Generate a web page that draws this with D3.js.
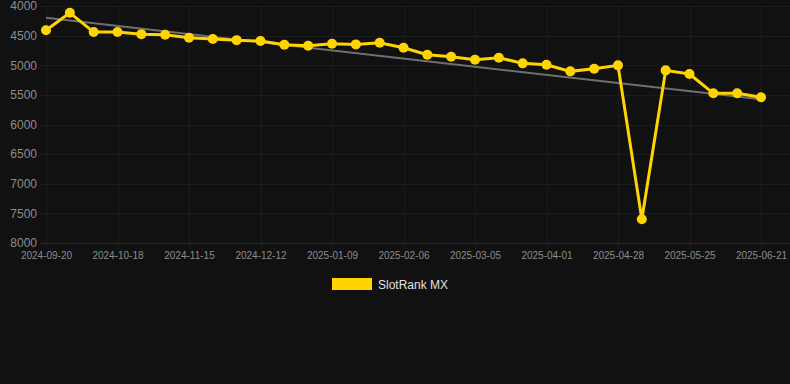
<!DOCTYPE html>
<html>
<head>
<meta charset="utf-8">
<script src="https://cdn.jsdelivr.net/npm/d3@7"></script>
<style>
  html, body { margin: 0; padding: 0; background: #111111; }
  svg { display: block; font-family: "Liberation Sans", Arial, sans-serif; }
</style>
</head>
<body>
<div class="chart"></div>
<script>
const width = 790;
const height = 384;

// dates of each sample (only every 3rd one is labelled on the axis)
const dates = [
  "2024-09-20", "2024-09-29", "2024-10-09", "2024-10-18", "2024-10-27", "2024-11-06",
  "2024-11-15", "2024-11-24", "2024-12-03", "2024-12-12", "2024-12-21", "2024-12-31",
  "2025-01-09", "2025-01-18", "2025-01-28", "2025-02-06", "2025-02-15", "2025-02-24",
  "2025-03-05", "2025-03-14", "2025-03-23", "2025-04-01", "2025-04-10", "2025-04-19",
  "2025-04-28", "2025-05-07", "2025-05-16", "2025-05-25", "2025-06-03", "2025-06-12",
  "2025-06-21",
];
const ranks = [
  4410, 4115, 4440, 4440, 4475, 4485, 4536, 4558, 4576, 4592,
  4654, 4671, 4637, 4648, 4620, 4704, 4822, 4856, 4906, 4873,
  4968, 4991, 5103, 5058, 5002, 7600, 5086, 5148, 5474, 5474,
  5541,
];
const yTicks = [4000, 4500, 5000, 5500, 6000, 6500, 7000, 7500, 8000];
const seriesName = "SlotRank MX";

const data = dates.map((d, i) => ({ date: d, rank: ranks[i], i: i }));
const tickDates = dates.filter((d, i) => i % 3 === 0);

const svg = d3
  .select(".chart")
  .append("svg")
  .attr("width", width)
  .attr("height", height);

const xScale = d3.scalePoint().domain(dates).range([46, 761]);
const yScale = d3.scaleLinear().domain([4000, 8000]).range([6, 243]);

// grid
svg
  .append("g")
  .selectAll("line")
  .data(yTicks)
  .enter()
  .append("line")
  .attr("x1", 40)
  .attr("x2", width)
  .attr("y1", (d) => Math.round(yScale(d)) + 0.5)
  .attr("y2", (d) => Math.round(yScale(d)) + 0.5)
  .attr("stroke", (d) => (d === 8000 ? "#2b2b2b" : "#1c1c1c"))
  .attr("stroke-width", 1);

svg
  .append("g")
  .selectAll("line")
  .data(tickDates)
  .enter()
  .append("line")
  .attr("x1", (d) => Math.round(xScale(d)) + 0.5)
  .attr("x2", (d) => Math.round(xScale(d)) + 0.5)
  .attr("y1", 6)
  .attr("y2", 249)
  .attr("stroke", "#1c1c1c")
  .attr("stroke-width", 1);

// y labels
const yAxis = d3
  .axisLeft(yScale)
  .tickValues(yTicks)
  .tickFormat(d3.format("d"))
  .tickSize(0)
  .tickPadding(0);
svg
  .append("g")
  .attr("transform", "translate(37,0)")
  .call(yAxis)
  .call((g) => g.select(".domain").remove())
  .selectAll("text")
  .attr("fill", "#8c8c8c")
  .style("font-size", "12px");

// x labels
const xAxis = d3.axisBottom(xScale).tickValues(tickDates).tickSize(0).tickPadding(0);
svg
  .append("g")
  .attr("transform", "translate(0,252)")
  .call(xAxis)
  .call((g) => g.select(".domain").remove())
  .selectAll("text")
  .attr("fill", "#8c8c8c")
  .style("font-size", "10px");

// trend line (least squares over the samples)
const n = data.length;
const mx = d3.mean(data, (d) => d.i);
const my = d3.mean(data, (d) => d.rank);
const slope =
  d3.sum(data, (d) => (d.i - mx) * (d.rank - my)) /
  d3.sum(data, (d) => (d.i - mx) * (d.i - mx));
const trend = [data[0], data[n - 1]].map((d) => ({
  date: d.date,
  rank: my + slope * (d.i - mx),
}));

svg
  .append("path")
  .datum(trend)
  .attr("fill", "none")
  .attr("stroke", "#6f6f6f")
  .attr("stroke-width", 2)
  .attr(
    "d",
    d3.line().x((d) => xScale(d.date)).y((d) => yScale(d.rank))
  );

// series
svg
  .append("path")
  .datum(data)
  .attr("fill", "none")
  .attr("stroke", "#ffd400")
  .attr("stroke-width", 3)
  .attr(
    "d",
    d3.line().x((d) => xScale(d.date)).y((d) => yScale(d.rank))
  );

svg
  .append("g")
  .selectAll("circle")
  .data(data)
  .enter()
  .append("circle")
  .attr("cx", (d) => xScale(d.date))
  .attr("cy", (d) => yScale(d.rank))
  .attr("r", 5)
  .attr("fill", "#ffd400");

// legend
const legend = svg.append("g");
legend
  .append("rect")
  .attr("x", 332)
  .attr("y", 278)
  .attr("width", 40)
  .attr("height", 12)
  .attr("fill", "#ffd400");
legend
  .append("text")
  .attr("x", 378)
  .attr("y", 289)
  .attr("fill", "#e0e0e0")
  .style("font-size", "12px")
  .text(seriesName);
</script>
</body>
</html>
